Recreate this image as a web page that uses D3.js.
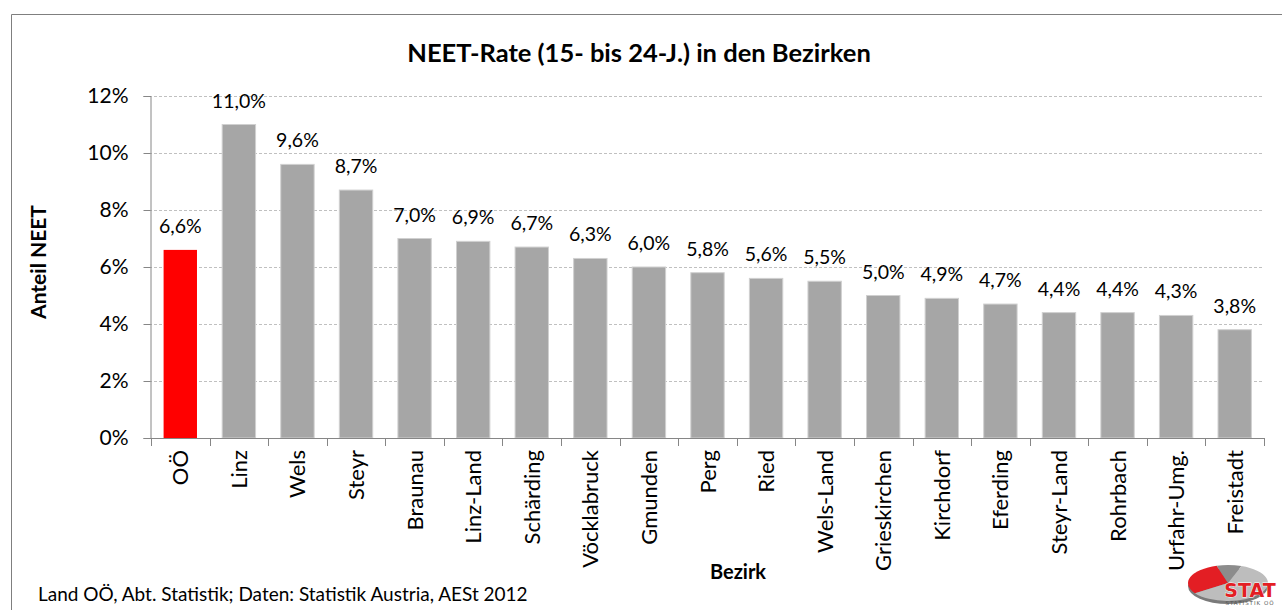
<!DOCTYPE html>
<html>
<head>
<meta charset="utf-8">
<script src="https://cdn.jsdelivr.net/npm/d3@7"></script>
<style>
  body { margin: 0; background: #fff; }
  svg { display: block; font-family: Lato, "Open Sans", sans-serif; }
</style>
</head>
<body>
<svg id="chart" width="1282" height="610"></svg>
<script>
// data
const districts = ["OÖ", "Linz", "Wels", "Steyr", "Braunau", "Linz-Land", "Schärding",
    "Vöcklabruck", "Gmunden", "Perg", "Ried", "Wels-Land", "Grieskirchen", "Kirchdorf",
    "Eferding", "Steyr-Land", "Rohrbach", "Urfahr-Umg.", "Freistadt"];
const neetRate = [6.6, 11.0, 9.6, 8.7, 7.0, 6.9, 6.7, 6.3, 6.0, 5.8, 5.6, 5.5, 5.0, 4.9,
    4.7, 4.4, 4.4, 4.3, 3.8];
const yTicks = [0, 2, 4, 6, 8, 10, 12];

const TITLE = "NEET-Rate (15- bis 24-J.) in den Bezirken";
const SOURCE = "Land OÖ, Abt. Statistik; Daten: Statistik Austria, AESt 2012";

const GRAY = "#a6a6a6";
const RED = "#ff0000";

const svg = d3.select("#chart");
const margin = {top: 96, left: 151, right: 18, bottom: 172};
const width = 1282, height = 610;

// outer frame of the chart area
svg.append("path")
    .attr("d", `M11.5,${height + 5} V14.5 H${width + 5}`)
    .attr("fill", "none")
    .attr("stroke", "#7f7f7f")
    .attr("stroke-width", 1);

const x = d3.scaleBand()
    .domain(districts)
    .range([margin.left, width - margin.right])
    .paddingInner(0.43)
    .paddingOuter(0.215);

const y = d3.scaleLinear()
    .domain([0, 12])
    .range([height - margin.bottom, margin.top]);

// gridlines
svg.append("g")
    .selectAll("line")
    .data(yTicks.filter(d => d > 0))
    .join("line")
    .attr("x1", margin.left - 7)
    .attr("x2", width - margin.right)
    .attr("y1", d => Math.round(y(d)) + 0.5)
    .attr("y2", d => Math.round(y(d)) + 0.5)
    .attr("stroke", "#c0c0c0")
    .attr("stroke-dasharray", "3,2");

// y axis
const yAxis = svg.append("g")
    .attr("transform", `translate(${margin.left - 0.5},0)`)
    .call(d3.axisLeft(y).tickValues(yTicks).tickFormat(d => d + "%").tickSize(7).tickPadding(15));
yAxis.select(".domain").attr("stroke", "#868686");
yAxis.selectAll(".tick line").attr("stroke", "#868686");
yAxis.selectAll(".tick text")
    .attr("font-size", 21)
    .attr("font-family", "Lato, sans-serif")
    .attr("fill", "#000");

// bars
svg.append("g")
    .selectAll("rect")
    .data(neetRate)
    .join("rect")
    .attr("x", (d, i) => x(districts[i]))
    .attr("y", d => y(d))
    .attr("width", x.bandwidth())
    .attr("height", d => y(0) - y(d))
    .attr("fill", (d, i) => i === 0 ? RED : GRAY)
    .attr("stroke", (d, i) => i === 0 ? "none" : "#d0d0d0")
    .attr("stroke-width", 1);

// value labels
svg.append("g")
    .selectAll("text")
    .data(neetRate)
    .join("text")
    .attr("x", (d, i) => x(districts[i]) + x.bandwidth() / 2)
    .attr("y", d => y(d) - 17)
    .attr("text-anchor", "middle")
    .attr("font-size", 19.5)
    .text(d => d.toFixed(1).replace(".", ",") + "%");

// x axis line + category ticks
const step = x.step();
const x0 = margin.left;
svg.append("line")
    .attr("x1", x0 - 7).attr("x2", width - margin.right)
    .attr("y1", y(0) + 0.5).attr("y2", y(0) + 0.5)
    .attr("stroke", "#868686");
svg.append("g")
    .selectAll("line")
    .data(d3.range(districts.length + 1))
    .join("line")
    .attr("x1", i => Math.round(x0 + i * step) + 0.5)
    .attr("x2", i => Math.round(x0 + i * step) + 0.5)
    .attr("y1", y(0))
    .attr("y2", y(0) + 8)
    .attr("stroke", "#868686");

// category labels (rotated)
svg.append("g")
    .selectAll("text")
    .data(districts)
    .join("text")
    .attr("transform", d => `translate(${x(d) + x.bandwidth() / 2 + 8},${y(0) + 12}) rotate(-90)`)
    .attr("text-anchor", "end")
    .attr("font-size", 22)
    .text(d => d);

// title
svg.append("text")
    .attr("x", 639)
    .attr("y", 62)
    .attr("text-anchor", "middle")
    .attr("font-size", 25.5)
    .attr("font-weight", "bold")
    .text(TITLE);

// axis titles
svg.append("text")
    .attr("transform", "translate(46,262) rotate(-90)")
    .attr("text-anchor", "middle")
    .attr("font-size", 21)
    .attr("font-weight", "bold")
    .text("Anteil NEET");

svg.append("text")
    .attr("x", 738)
    .attr("y", 579)
    .attr("text-anchor", "middle")
    .attr("font-size", 20)
    .attr("font-weight", "bold")
    .text("Bezirk");

// source
svg.append("text")
    .attr("x", 38)
    .attr("y", 601)
    .attr("font-size", 19)
    .text(SOURCE);

// STAT logo
const logo = svg.append("g").attr("transform", "translate(1228,583)");
const pie = d3.pie().sort(null).startAngle(-Math.PI / 2 - 0.6).endAngle(3 * Math.PI / 2 - 0.6);
const arc = d3.arc().innerRadius(0).outerRadius(40);
const logoSlices = [
    {v: 0.30, c: "#e31e24"},
    {v: 0.10, c: "#8c8c8c"},
    {v: 0.60, c: "#bdbdbd"}
];
logo.append("ellipse")
    .attr("cx", 0).attr("cy", 3)
    .attr("rx", 40).attr("ry", 18)
    .attr("fill", "#7a7a7a");
logo.append("g")
    .attr("transform", "scale(1,0.45)")
    .selectAll("path")
    .data(pie.value(d => d.v)(logoSlices))
    .join("path")
    .attr("d", arc)
    .attr("fill", d => d.data.c);
logo.append("text")
    .attr("x", 22).attr("y", 14)
    .attr("text-anchor", "middle")
    .attr("font-family", "DejaVu Sans, sans-serif")
    .attr("font-size", 19)
    .attr("font-weight", "bold")
    .attr("fill", "#e31e24")
    .attr("stroke", "#fff")
    .attr("stroke-width", 0.8)
    .attr("paint-order", "stroke")
    .text("STAT");
logo.append("text")
    .attr("x", 22).attr("y", 22)
    .attr("text-anchor", "middle")
    .attr("font-family", "DejaVu Sans, sans-serif")
    .attr("font-size", 5.5)
    .attr("letter-spacing", 1)
    .attr("fill", "#555")
    .text("STATISTIK OÖ");
</script>
</body>
</html>
